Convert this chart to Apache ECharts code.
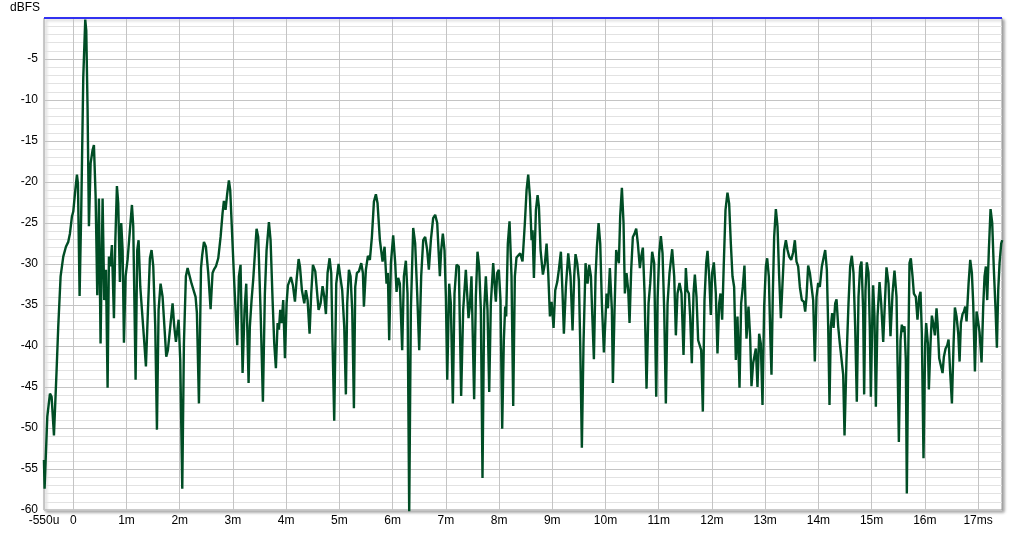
<!DOCTYPE html>
<html>
<head>
<meta charset="utf-8">
<script src="https://cdn.jsdelivr.net/npm/echarts@6/dist/echarts.min.js"></script>
<style>
html,body{margin:0;padding:0;background:#fff;}
#chart{width:1024px;height:534px;}
</style>
</head>
<body>
<div id="chart"></div>
<script>
// Impulse response envelope, time in ms, level in dBFS
const timeMs = [
-0.551,-0.539,-0.488,-0.438,-0.407,-0.363,-0.313,-0.282,-0.238,-0.188,-0.138,-0.094,-0.063,-0.025,0.000,0.038,0.069,0.088,0.119,0.150,
0.188,0.225,0.244,0.269,0.294,0.326,0.363,0.388,0.420,0.451,0.482,0.513,0.551,0.582,0.614,0.645,0.670,0.695,0.726,0.764,
0.789,0.820,0.845,0.876,0.901,0.927,0.952,0.983,1.020,1.064,1.102,1.127,1.171,1.202,1.227,1.259,1.296,1.327,1.365,1.403,
1.440,1.471,1.503,1.540,1.572,1.603,1.640,1.678,1.716,1.747,1.778,1.803,1.835,1.866,1.897,1.929,1.979,2.010,2.048,2.079,
2.116,2.148,2.179,2.223,2.260,2.298,2.323,2.361,2.400,2.423,2.455,2.492,2.536,2.580,2.617,2.642,2.680,2.724,2.768,2.805,
2.830,2.861,2.893,2.924,2.949,2.987,3.024,3.049,3.081,3.112,3.143,3.181,3.218,3.250,3.294,3.318,3.350,3.381,3.425,3.444,
3.475,3.519,3.563,3.600,3.632,3.676,3.707,3.745,3.776,3.807,3.839,3.864,3.889,3.914,3.945,3.977,4.008,4.033,4.058,4.089,
4.127,4.165,4.196,4.234,4.259,4.296,4.340,4.371,4.403,4.440,4.471,4.503,4.547,4.572,4.609,4.647,4.684,4.716,4.747,4.778,
4.816,4.847,4.872,4.903,4.941,4.985,5.016,5.053,5.091,5.122,5.147,5.179,5.210,5.241,5.273,5.298,5.329,5.367,5.411,5.442,
5.461,5.498,5.536,5.573,5.611,5.649,5.686,5.717,5.761,5.811,5.849,5.886,5.911,5.936,5.968,6.011,6.049,6.074,6.105,6.136,
6.180,6.212,6.249,6.280,6.312,6.343,6.387,6.424,6.462,6.500,6.537,6.575,6.612,6.650,6.681,6.719,6.762,6.800,6.838,6.863,
6.888,6.913,6.944,6.975,7.001,7.026,7.063,7.094,7.132,7.163,7.201,7.244,7.288,7.326,7.376,7.426,7.451,7.482,7.532,7.564,
7.595,7.626,7.658,7.689,7.720,7.752,7.783,7.815,7.846,7.890,7.928,7.940,7.965,7.996,8.027,8.059,8.090,8.115,8.134,8.165,
8.197,8.234,8.266,8.297,8.328,8.360,8.397,8.441,8.485,8.517,8.548,8.580,8.611,8.630,8.655,8.693,8.724,8.749,8.780,8.824,
8.862,8.893,8.924,8.956,8.987,9.024,9.056,9.093,9.124,9.162,9.193,9.218,9.256,9.300,9.343,9.381,9.412,9.437,9.469,9.500,
9.525,9.556,9.587,9.625,9.663,9.694,9.726,9.757,9.782,9.813,9.839,9.870,9.901,9.932,9.970,10.001,10.020,10.045,10.082,10.120,
10.139,10.170,10.201,10.226,10.251,10.276,10.308,10.339,10.364,10.395,10.427,10.452,10.483,10.514,10.546,10.577,10.608,10.646,10.671,10.702,
10.734,10.771,10.809,10.840,10.877,10.915,10.953,10.978,11.009,11.040,11.072,11.103,11.134,11.166,11.203,11.253,11.291,11.322,11.353,11.391,
11.428,11.466,11.510,11.535,11.566,11.591,11.622,11.654,11.679,11.710,11.741,11.773,11.798,11.829,11.860,11.892,11.917,11.948,11.979,12.004,
12.036,12.073,12.104,12.136,12.161,12.192,12.223,12.255,12.292,12.323,12.355,12.386,12.417,12.449,12.480,12.518,12.549,12.580,12.611,12.649,
12.687,12.718,12.743,12.774,12.825,12.856,12.887,12.918,12.950,12.981,13.013,13.038,13.069,13.100,13.119,13.144,13.169,13.201,13.232,13.263,
13.295,13.326,13.357,13.389,13.420,13.451,13.489,13.526,13.558,13.589,13.620,13.652,13.689,13.727,13.752,13.777,13.808,13.840,13.871,13.902,
13.933,13.965,13.996,14.027,14.065,14.096,14.128,14.159,14.184,14.209,14.234,14.259,14.285,14.316,14.341,14.372,14.403,14.435,14.466,14.491,
14.528,14.566,14.597,14.628,14.660,14.691,14.722,14.754,14.785,14.810,14.841,14.860,14.885,14.910,14.942,14.967,14.986,15.017,15.029,15.054,
15.080,15.111,15.149,15.180,15.218,15.249,15.280,15.318,15.355,15.393,15.430,15.468,15.487,15.512,15.543,15.568,15.593,15.618,15.643,15.662,
15.687,15.712,15.737,15.769,15.794,15.831,15.862,15.894,15.919,15.944,15.975,16.007,16.025,16.057,16.076,16.107,16.132,16.157,16.189,16.220,
16.239,16.270,16.302,16.333,16.358,16.390,16.421,16.446,16.477,16.509,16.540,16.565,16.596,16.628,16.653,16.678,16.709,16.734,16.759,16.784,
16.822,16.853,16.884,16.909,16.941,16.972,16.997,17.028,17.066,17.097,17.122,17.147,17.172,17.203,17.235,17.266,17.297,17.329,17.354,17.379,
17.404,17.435,17.454
];
const levelDb = [
-53.9,-57.4,-48.6,-45.8,-46.2,-50.9,-42.9,-37.6,-31.5,-29.1,-27.9,-27.3,-26.3,-24.2,-23.6,-21.0,-19.1,-20.2,-33.9,-23.4,
-7.2,-0.2,-1.5,-11.2,-25.4,-17.7,-16.1,-15.5,-21.8,-33.8,-22.0,-39.7,-22.0,-34.4,-30.7,-45.1,-29.1,-30.3,-27.7,-36.6,
-27.5,-20.5,-22.6,-32.2,-25.0,-28.3,-39.6,-31.5,-29.5,-25.9,-22.8,-25.4,-44.1,-28.3,-27.1,-32.8,-33.0,-38.9,-42.5,-35.6,
-29.3,-28.3,-30.3,-37.6,-50.2,-35.6,-32.4,-34.0,-38.0,-41.3,-40.5,-40.3,-36.8,-34.8,-37.6,-39.5,-36.8,-41.7,-57.4,-39.7,
-31.5,-30.5,-30.4,-32.4,-32.4,-34.0,-36.0,-47.0,-30.5,-28.9,-27.3,-27.9,-31.1,-35.5,-31.1,-30.7,-30.3,-29.3,-26.7,-23.8,
-22.3,-23.4,-21.4,-19.8,-21.0,-26.7,-32.2,-32.4,-39.9,-31.5,-30.1,-43.3,-35.6,-32.4,-44.5,-37.6,-34.4,-31.9,-27.5,-25.7,
-26.7,-35.6,-46.8,-33.6,-28.3,-24.9,-27.1,-34.4,-39.7,-42.7,-37.2,-38.0,-35.6,-37.2,-34.4,-41.5,-34.8,-32.6,-32.8,-31.6,
-32.6,-34.6,-31.9,-29.4,-30.3,-33.2,-34.8,-33.2,-34.4,-38.5,-33.6,-30.1,-30.9,-32.8,-35.6,-34.8,-32.7,-34.0,-36.1,-31.1,
-29.3,-31.1,-39.7,-49.1,-32.4,-30.0,-31.5,-33.2,-37.6,-45.9,-34.8,-30.7,-31.5,-35.6,-47.6,-32.8,-31.1,-30.9,-29.9,-31.1,
-35.2,-30.7,-29.0,-29.5,-26.7,-22.4,-21.5,-22.6,-27.1,-29.7,-27.9,-32.4,-31.1,-39.3,-29.9,-26.5,-29.9,-33.4,-31.7,-32.4,
-40.5,-31.5,-29.6,-33.6,-60.5,-35.6,-25.6,-27.5,-33.6,-40.5,-31.5,-27.1,-26.7,-28.3,-30.7,-27.1,-24.4,-24.0,-25.0,-28.3,
-31.5,-28.3,-26.3,-28.3,-34.0,-44.1,-32.4,-34.8,-47.0,-33.6,-30.1,-30.3,-46.1,-35.6,-30.7,-36.6,-35.2,-31.5,-46.5,-34.0,
-28.5,-30.3,-35.6,-56.1,-35.6,-31.5,-35.6,-45.6,-34.8,-29.9,-33.6,-34.6,-31.1,-30.7,-34.4,-50.1,-39.3,-35.2,-36.4,-27.5,
-24.8,-31.5,-47.3,-31.5,-29.2,-29.3,-28.7,-29.7,-25.0,-21.0,-19.1,-21.8,-27.1,-25.9,-31.7,-23.4,-21.6,-23.0,-28.3,-31.3,
-29.9,-27.5,-31.1,-36.4,-34.6,-37.8,-33.2,-32.2,-30.7,-28.5,-33.6,-38.5,-32.8,-28.7,-31.5,-38.1,-31.5,-28.8,-29.9,-32.0,
-39.7,-52.4,-39.7,-29.9,-32.4,-30.1,-31.5,-37.2,-41.6,-31.5,-27.9,-25.0,-27.5,-34.8,-40.8,-36.4,-33.6,-35.4,-30.5,-35.6,
-44.5,-35.6,-28.3,-28.1,-29.9,-24.2,-20.7,-25.0,-33.6,-31.1,-33.2,-37.2,-30.7,-26.7,-26.3,-25.7,-27.5,-30.5,-29.1,-28.0,
-33.6,-45.2,-34.8,-32.4,-28.5,-29.9,-46.2,-34.4,-28.7,-26.6,-28.7,-35.6,-47.0,-34.8,-31.1,-28.2,-31.5,-38.7,-33.6,-32.3,
-33.6,-41.1,-30.5,-33.2,-33.6,-36.4,-42.1,-33.6,-31.3,-34.0,-39.3,-39.5,-40.5,-48.0,-34.4,-29.9,-28.4,-31.5,-36.2,-31.1,
-29.8,-33.6,-40.9,-34.8,-33.6,-36.8,-29.9,-23.4,-21.3,-22.6,-27.5,-31.5,-32.8,-41.7,-36.4,-45.1,-34.8,-32.8,-30.2,-39.1,
-35.2,-38.9,-44.9,-42.1,-40.3,-45.0,-38.5,-39.7,-47.2,-35.2,-30.3,-29.3,-31.5,-39.7,-43.5,-33.6,-26.7,-23.3,-25.4,-31.5,
-36.6,-32.4,-28.3,-27.1,-28.3,-29.1,-29.5,-28.6,-27.1,-29.7,-30.3,-32.8,-34.4,-34.6,-35.8,-34.0,-30.2,-31.1,-30.9,-34.4,
-41.9,-34.0,-32.3,-32.8,-30.3,-29.3,-28.3,-30.7,-37.6,-47.2,-37.6,-36.0,-37.8,-34.8,-34.3,-37.6,-39.7,-39.9,-43.5,-50.9,
-41.7,-34.8,-30.3,-29.0,-31.1,-37.6,-46.8,-34.0,-30.3,-29.7,-35.6,-45.9,-33.2,-29.8,-31.1,-38.0,-46.2,-35.2,-32.6,-36.4,
-47.4,-36.4,-32.2,-34.8,-39.5,-34.8,-30.4,-32.4,-38.8,-33.6,-30.8,-34.0,-41.7,-51.7,-39.3,-37.4,-38.3,-37.6,-41.7,-58.0,
-41.7,-29.9,-29.3,-31.5,-33.6,-34.0,-36.8,-34.0,-33.4,-38.5,-53.7,-39.7,-37.2,-39.7,-45.3,-39.7,-36.3,-37.2,-38.7,-35.4,
-37.2,-41.5,-42.4,-43.3,-41.3,-40.3,-39.9,-39.2,-43.3,-47.0,-39.7,-35.3,-36.4,-38.5,-41.9,-37.2,-36.1,-35.8,-35.2,-37.0,
-32.4,-29.5,-31.1,-34.8,-43.1,-35.8,-36.8,-38.3,-42.0,-35.2,-31.5,-30.3,-34.4,-28.3,-23.3,-25.0,-30.7,-35.6,-40.2,-33.2,
-29.9,-27.5,-27.1
];
const xTickValues = [-0.55,0,1,2,3,4,5,6,7,8,9,10,11,12,13,14,15,16,17];

const seriesData = timeMs.map((t, i) => [t, levelDb[i]]);

const chart = echarts.init(document.getElementById('chart'), null, {renderer: 'canvas'});
const font = 'Liberation Sans, Arial, sans-serif';
chart.setOption({
  animation: false,
  backgroundColor: '#ffffff',
  grid: {
    left: 44, top: 18, right: 22, bottom: 24,
    show: true, backgroundColor: '#ffffff',
    borderColor: '#9a9a9a', borderWidth: 1,
    shadowColor: 'rgba(0,0,0,0.35)', shadowBlur: 3, shadowOffsetX: 2, shadowOffsetY: 2
  },
  graphic: [{
    type: 'text', left: 10, top: 2,
    style: {text: 'dBFS', font: '12px ' + font, fill: '#000'}
  }],
  xAxis: {
    type: 'value', min: -0.55, max: 17.45,
    axisLine: {show: false},
    axisTick: {show: false, customValues: xTickValues},
    axisLabel: {
      customValues: xTickValues,
      color: '#000', fontFamily: font, fontSize: 12, margin: 5,
      formatter: v => {
        if (Math.abs(v + 0.55) < 1e-6) return '-550u';
        if (v === 0) return '0';
        if (v === 17) return '17ms';
        return v + 'm';
      }
    },
    splitLine: {show: true, lineStyle: {color: '#c4c4c4', width: 1}}
  },
  yAxis: {
    type: 'value', min: -60, max: 0, interval: 5,
    axisLine: {show: false},
    axisTick: {show: false},
    axisLabel: {
      color: '#000', fontFamily: font, fontSize: 12, margin: 6,
      formatter: v => (v === 0 ? '' : String(v))
    },
    splitLine: {show: true, lineStyle: {color: '#c4c4c4', width: 1}},
    minorTick: {show: false, splitNumber: 5},
    minorSplitLine: {show: true, lineStyle: {color: '#e2e2e2', width: 1}}
  },
  series: [{
    type: 'line',
    data: seriesData,
    showSymbol: false,
    symbol: 'none',
    clip: true,
    lineStyle: {color: '#004d25', width: 2.4},
    markLine: {
      silent: true, symbol: 'none',
      label: {show: false},
      lineStyle: {color: '#0000ff', width: 1.5, type: 'solid'},
      data: [{yAxis: 0}]
    }
  }]
});
</script>
</body>
</html>
